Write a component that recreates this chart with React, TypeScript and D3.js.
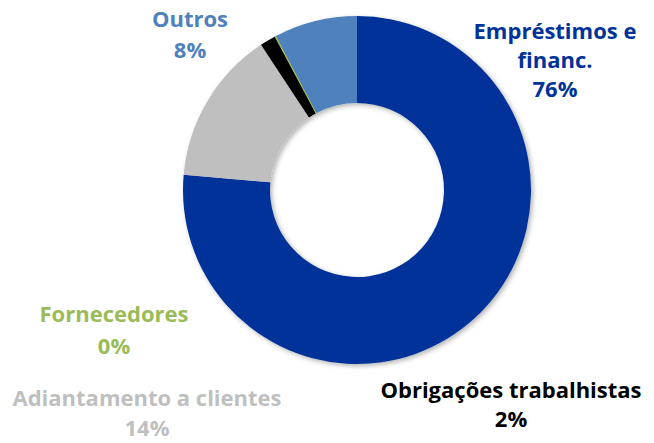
import { useEffect, useRef } from 'react';
import * as d3 from 'd3';

// Slices, clockwise from 12 o'clock
const categories = ['Empréstimos e financ.', 'Adiantamento a clientes', 'Obrigações trabalhistas', 'Fornecedores', 'Outros'];
const values = [76.4, 14.3, 1.5, 0.1, 7.7];
const colors = ['#003399', '#BFBFBF', '#000000', '#9BBB59', '#4F81BD'];
const labelColors = ['#003399', '#BFBFBF', '#000000', '#9BBB59', '#4F81BD'];
// label text lines (last line is the percentage)
const labelLines = [['Empréstimos e', 'financ.'], ['Adiantamento a clientes'], ['Obrigações trabalhistas'], ['Fornecedores'], ['Outros']];

function App() {
  const ref = useRef<SVGSVGElement>(null);

  useEffect(() => {
    const W = 654;
    const H = 443;
    const svg = d3.select(ref.current);
    svg.selectAll('*').remove();
    svg.attr('width', W).attr('height', H);

    const cx = 357;
    const cy = 190;
    const outer = 174;
    const inner = 87;

    const defs = svg.append('defs');
    const f = defs.append('filter').attr('id', 'shadow').attr('x', '-10%').attr('y', '-10%').attr('width', '130%').attr('height', '130%');
    f.append('feDropShadow').attr('dx', 2).attr('dy', 2).attr('stdDeviation', 2.5).attr('flood-color', '#000').attr('flood-opacity', 0.3);

    const data = categories.map((c, i) => ({ name: c, value: values[i], color: colors[i] }));
    const pie = d3.pie<any>().sort(null).value(d => d.value);
    const arc = d3.arc<any>().innerRadius(inner).outerRadius(outer);

    const g = svg.append('g').attr('transform', `translate(${cx},${cy})`).attr('filter', 'url(#shadow)');
    g.selectAll('path')
      .data(pie(data))
      .enter()
      .append('path')
      .attr('d', arc)
      .attr('fill', d => d.data.color)
      .attr('stroke', d => (d.data.value < 1 ? d.data.color : 'none'))
      .attr('stroke-width', d => (d.data.value < 1 ? 1 : 0));

    // label anchor points (center x, first baseline), line spacing
    const labelPos = [
      [555, 39],
      [147, 406],
      [511, 398],
      [114, 322],
      [190, 27],
    ];
    const lineGap = [29, 30, 29, 32, 31];

    categories.forEach((c, i) => {
      const lines = [...labelLines[i], `${Math.round(values[i])}%`];
      const lg = svg.append('g').attr('transform', `translate(${labelPos[i][0]},0)`);
      lines.forEach((t, j) => {
        lg.append('text')
          .attr('x', 0)
          .attr('y', labelPos[i][1] + j * lineGap[i])
          .attr('text-anchor', 'middle')
          .style('font-family', '"Open Sans", "Noto Sans", sans-serif')
          .style('font-weight', 700)
          .style('font-size', '22px')
          .style('fill', labelColors[i])
          .text(t);
      });
    });
  }, []);

  return (
    <div style={{ position: 'absolute', left: 0, top: 0, width: 654, height: 443, background: '#fff' }}>
      <svg ref={ref} style={{ display: 'block' }}></svg>
    </div>
  );
}

export default App;
